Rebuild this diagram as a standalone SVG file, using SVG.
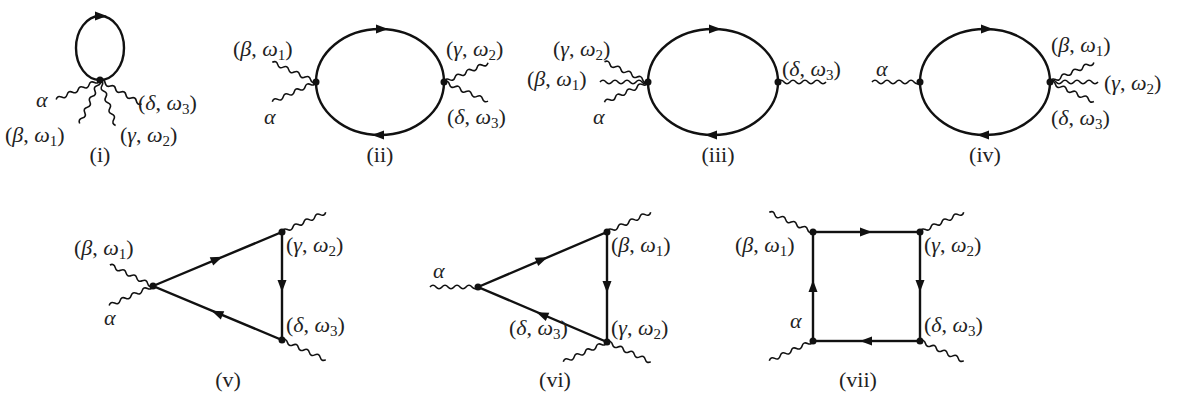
<svg xmlns="http://www.w3.org/2000/svg" xmlns:xlink="http://www.w3.org/1999/xlink" width="1177" height="412" viewBox="0 0 1177 412">
<style>
.ln{fill:none;stroke:#111;stroke-width:2.4}
.wv{fill:none;stroke:#111;stroke-width:1.6}
.dot{fill:#111}
.ar{fill:#111}
text{font-family:"Liberation Serif","DejaVu Serif",serif;font-size:22px;fill:#222}
.i{font-style:italic}
.s{font-size:15px}
</style>
<defs>
<path id="w" d="M0,0 q3,-3.5 6,0 t6,0 t6,0 t6,0 t6,0 t6,0 t6,0 t6,0"/>
<path id="a" d="M-6,-4.5 L6,0 L-6,4.5 z"/>
</defs>
<rect width="1177" height="412" fill="#fff"/>
<g id="d1">
<ellipse class="ln" cx="100" cy="48" rx="24" ry="32"/>
<use href="#a" class="ar" transform="translate(101,16)"/>
<g class="wv">
<use href="#w" transform="translate(100,80) rotate(156)"/>
<use href="#w" transform="translate(100,80) rotate(115)"/>
<use href="#w" transform="translate(100,80) rotate(71)"/>
<use href="#w" transform="translate(100,80) rotate(30)"/>
</g>
<circle class="dot" cx="100" cy="80" r="3.5"/>
<text x="36" y="107" class="i">α</text>
<text x="138" y="110">(<tspan class="i">δ</tspan>, <tspan class="i">ω</tspan><tspan class="s" dy="4">3</tspan><tspan dy="-4">)</tspan></text>
<text x="5" y="142">(<tspan class="i">β</tspan>, <tspan class="i">ω</tspan><tspan class="s" dy="4">1</tspan><tspan dy="-4">)</tspan></text>
<text x="120" y="142">(<tspan class="i">γ</tspan>, <tspan class="i">ω</tspan><tspan class="s" dy="4">2</tspan><tspan dy="-4">)</tspan></text>
<text x="100" y="162" text-anchor="middle">(i)</text>
</g>
<g id="d2">
<ellipse class="ln" cx="380" cy="82" rx="64" ry="53"/>
<use href="#a" class="ar" transform="translate(382,29)"/>
<use href="#a" class="ar" transform="translate(378,135) rotate(180)"/>
<g class="wv">
<use href="#w" transform="translate(316,82) rotate(204.4)"/>
<use href="#w" transform="translate(316,82) rotate(155.6)"/>
<use href="#w" transform="translate(444,82) rotate(-23.5)"/>
<use href="#w" transform="translate(444,82) rotate(23.5)"/>
</g>
<circle class="dot" cx="316" cy="82" r="3.5"/>
<circle class="dot" cx="444" cy="82" r="3.5"/>
<text x="233" y="56">(<tspan class="i">β</tspan>, <tspan class="i">ω</tspan><tspan class="s" dy="4">1</tspan><tspan dy="-4">)</tspan></text>
<text x="264" y="124" class="i">α</text>
<text x="446" y="56">(<tspan class="i">γ</tspan>, <tspan class="i">ω</tspan><tspan class="s" dy="4">2</tspan><tspan dy="-4">)</tspan></text>
<text x="447" y="124">(<tspan class="i">δ</tspan>, <tspan class="i">ω</tspan><tspan class="s" dy="4">3</tspan><tspan dy="-4">)</tspan></text>
<text x="380" y="162" text-anchor="middle">(ii)</text>
</g>
<g id="d3">
<ellipse class="ln" cx="713" cy="82" rx="65" ry="53"/>
<use href="#a" class="ar" transform="translate(715,29)"/>
<use href="#a" class="ar" transform="translate(711,135) rotate(180)"/>
<g class="wv">
<use href="#w" transform="translate(648,82) rotate(205)"/>
<use href="#w" transform="translate(648,82) rotate(180)"/>
<use href="#w" transform="translate(648,82) rotate(155)"/>
<use href="#w" transform="translate(778,82)"/>
</g>
<circle class="dot" cx="648" cy="82" r="3.5"/>
<circle class="dot" cx="778" cy="82" r="3.5"/>
<text x="553" y="56">(<tspan class="i">γ</tspan>, <tspan class="i">ω</tspan><tspan class="s" dy="4">2</tspan><tspan dy="-4">)</tspan></text>
<text x="527" y="86">(<tspan class="i">β</tspan>, <tspan class="i">ω</tspan><tspan class="s" dy="4">1</tspan><tspan dy="-4">)</tspan></text>
<text x="593" y="124" class="i">α</text>
<text x="782" y="76">(<tspan class="i">δ</tspan>, <tspan class="i">ω</tspan><tspan class="s" dy="4">3</tspan><tspan dy="-4">)</tspan></text>
<text x="718" y="162" text-anchor="middle">(iii)</text>
</g>
<g id="d4">
<ellipse class="ln" cx="985" cy="82" rx="65" ry="53"/>
<use href="#a" class="ar" transform="translate(987,29)"/>
<use href="#a" class="ar" transform="translate(983,135) rotate(180)"/>
<g class="wv">
<use href="#w" transform="translate(920,82) rotate(180)"/>
<use href="#w" transform="translate(1050,82) rotate(-24)"/>
<use href="#w" transform="translate(1050,82)"/>
<use href="#w" transform="translate(1050,82) rotate(24)"/>
</g>
<circle class="dot" cx="920" cy="82" r="3.5"/>
<circle class="dot" cx="1050" cy="82" r="3.5"/>
<text x="876" y="76" class="i">α</text>
<text x="1051" y="52">(<tspan class="i">β</tspan>, <tspan class="i">ω</tspan><tspan class="s" dy="4">1</tspan><tspan dy="-4">)</tspan></text>
<text x="1104" y="90">(<tspan class="i">γ</tspan>, <tspan class="i">ω</tspan><tspan class="s" dy="4">2</tspan><tspan dy="-4">)</tspan></text>
<text x="1051" y="125">(<tspan class="i">δ</tspan>, <tspan class="i">ω</tspan><tspan class="s" dy="4">3</tspan><tspan dy="-4">)</tspan></text>
<text x="985" y="162" text-anchor="middle">(iv)</text>
</g>
<g id="d5">
<path class="ln" d="M153,286 L282,232 L282,340 Z"/>
<use href="#a" class="ar" transform="translate(217,259) rotate(-22.7)"/>
<use href="#a" class="ar" transform="translate(282,286) rotate(90)"/>
<use href="#a" class="ar" transform="translate(217,313) rotate(202.7)"/>
<g class="wv">
<use href="#w" transform="translate(153,286) rotate(206)"/>
<use href="#w" transform="translate(153,286) rotate(156)"/>
<use href="#w" transform="translate(282,232) rotate(-24.4)"/>
<use href="#w" transform="translate(282,340) rotate(24.4)"/>
</g>
<circle class="dot" cx="153" cy="286" r="3.5"/>
<circle class="dot" cx="282" cy="232" r="3.5"/>
<circle class="dot" cx="282" cy="340" r="3.5"/>
<text x="74" y="255">(<tspan class="i">β</tspan>, <tspan class="i">ω</tspan><tspan class="s" dy="4">1</tspan><tspan dy="-4">)</tspan></text>
<text x="104" y="325" class="i">α</text>
<text x="286" y="252">(<tspan class="i">γ</tspan>, <tspan class="i">ω</tspan><tspan class="s" dy="4">2</tspan><tspan dy="-4">)</tspan></text>
<text x="286" y="332">(<tspan class="i">δ</tspan>, <tspan class="i">ω</tspan><tspan class="s" dy="4">3</tspan><tspan dy="-4">)</tspan></text>
<text x="228" y="387" text-anchor="middle">(v)</text>
</g>
<g id="d6">
<path class="ln" d="M478,287 L607,232 L607,342 Z"/>
<use href="#a" class="ar" transform="translate(542,259.5) rotate(-23.1)"/>
<use href="#a" class="ar" transform="translate(607,287) rotate(90)"/>
<use href="#a" class="ar" transform="translate(542,314.5) rotate(203.1)"/>
<g class="wv">
<use href="#w" transform="translate(478,287) rotate(180)"/>
<use href="#w" transform="translate(607,232) rotate(-24.4)"/>
<use href="#w" transform="translate(607,342) rotate(24.4)"/>
<use href="#w" transform="translate(607,342) rotate(155.6)"/>
</g>
<circle class="dot" cx="478" cy="287" r="3.5"/>
<circle class="dot" cx="607" cy="232" r="3.5"/>
<circle class="dot" cx="607" cy="342" r="3.5"/>
<text x="433" y="278" class="i">α</text>
<text x="611" y="252">(<tspan class="i">β</tspan>, <tspan class="i">ω</tspan><tspan class="s" dy="4">1</tspan><tspan dy="-4">)</tspan></text>
<text x="611" y="335">(<tspan class="i">γ</tspan>, <tspan class="i">ω</tspan><tspan class="s" dy="4">2</tspan><tspan dy="-4">)</tspan></text>
<text x="509" y="335">(<tspan class="i">δ</tspan>, <tspan class="i">ω</tspan><tspan class="s" dy="4">3</tspan><tspan dy="-4">)</tspan></text>
<text x="555" y="387" text-anchor="middle">(vi)</text>
</g>
<g id="d7">
<rect class="ln" x="813" y="232" width="107" height="109"/>
<use href="#a" class="ar" transform="translate(866,232)"/>
<use href="#a" class="ar" transform="translate(920,286) rotate(90)"/>
<use href="#a" class="ar" transform="translate(866,341) rotate(180)"/>
<use href="#a" class="ar" transform="translate(813,286) rotate(-90)"/>
<g class="wv">
<use href="#w" transform="translate(813,232) rotate(204.4)"/>
<use href="#w" transform="translate(920,232) rotate(-24.4)"/>
<use href="#w" transform="translate(920,341) rotate(24.4)"/>
<use href="#w" transform="translate(813,341) rotate(155.6)"/>
</g>
<circle class="dot" cx="813" cy="232" r="3.5"/>
<circle class="dot" cx="920" cy="232" r="3.5"/>
<circle class="dot" cx="920" cy="341" r="3.5"/>
<circle class="dot" cx="813" cy="341" r="3.5"/>
<text x="735" y="252">(<tspan class="i">β</tspan>, <tspan class="i">ω</tspan><tspan class="s" dy="4">1</tspan><tspan dy="-4">)</tspan></text>
<text x="924" y="252">(<tspan class="i">γ</tspan>, <tspan class="i">ω</tspan><tspan class="s" dy="4">2</tspan><tspan dy="-4">)</tspan></text>
<text x="924" y="332">(<tspan class="i">δ</tspan>, <tspan class="i">ω</tspan><tspan class="s" dy="4">3</tspan><tspan dy="-4">)</tspan></text>
<text x="790" y="328" class="i">α</text>
<text x="858" y="387" text-anchor="middle">(vii)</text>
</g>
</svg>
